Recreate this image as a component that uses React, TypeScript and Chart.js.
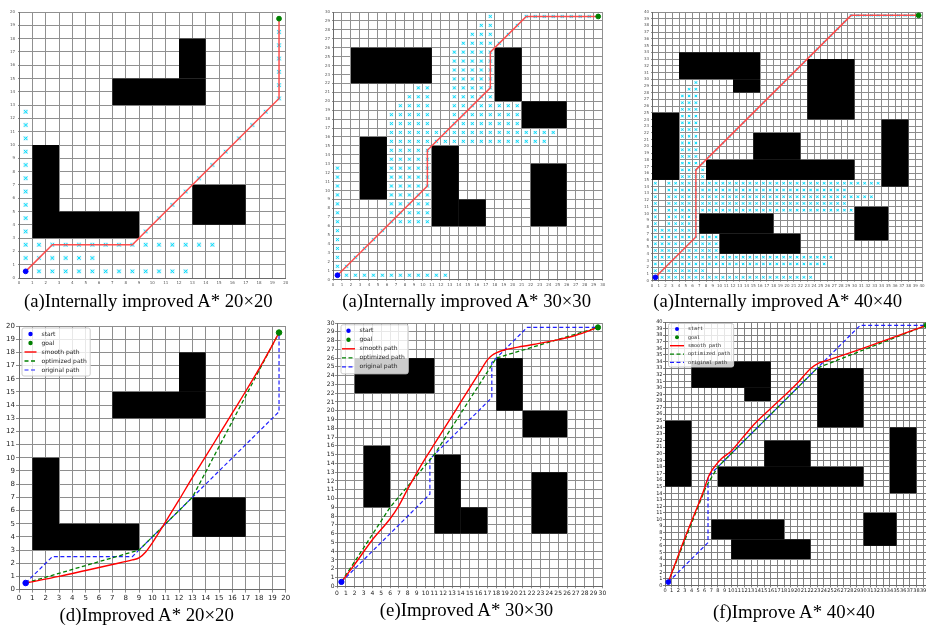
import React, { useEffect, useRef } from 'react';
import { Chart, registerables } from 'chart.js';

Chart.register(...registerables);

type Pt = [number, number];
type Rect = [number, number, number, number];

// ---------------- data ----------------
const START_POINT: Pt = [0.5, 0.5];
const GOAL_20: Pt = [19.5, 19.5];
const GOAL_30: Pt = [29.5, 29.5];
const GOAL_40: Pt = [39.5, 39.5];

// obstacles: [x0, y0, x1, y1]
const OBSTACLES_20: Rect[] = [[1, 3, 3, 10], [3, 3, 9, 5], [7, 13, 14, 15], [12, 15, 14, 18], [13, 4, 17, 7]];
const OBSTACLES_30: Rect[] = [[2, 22, 11, 26], [3, 9, 6, 16], [11, 6, 14, 15], [14, 6, 17, 9], [18, 20, 21, 26], [21, 17, 26, 20], [22, 6, 26, 13]];
const OBSTACLES_40: Rect[] = [[4, 30, 16, 34], [12, 28, 16, 30], [0, 15, 4, 25], [8, 15, 30, 18], [15, 18, 22, 22], [23, 24, 30, 33], [34, 14, 38, 24], [30, 6, 35, 11], [7, 7, 18, 10], [10, 4, 22, 7]];

// original (internally improved A*) paths
const ORIGINAL_20: Pt[] = [[0.5, 0.5], [2.5, 2.5], [8.5, 2.5], [19.5, 13.5], [19.5, 19.5]];
const ORIGINAL_30: Pt[] = [[0.5, 0.5], [10.5, 10.5], [10.5, 14.5], [17.5, 21.5], [17.5, 25.5], [21.5, 29.5], [29.5, 29.5]];
const ORIGINAL_40: Pt[] = [[0.5, 0.5], [6.5, 6.5], [6.5, 16.5], [29.5, 39.5], [39.5, 39.5]];

// optimized paths
const OPTIMIZED_20: Pt[] = [[0.5, 0.5], [9, 3], [13, 7], [19.5, 19.5]];
const OPTIMIZED_30: Pt[] = [[0.5, 0.5], [6, 9], [11, 15], [18, 26], [29.5, 29.5]];
const OPTIMIZED_40: Pt[] = [[0.5, 0.5], [6.2, 15], [8, 18], [23, 33], [39.5, 39.5]];

// smooth paths
const SMOOTH_20: Pt[] = [[0.5, 0.5], [3, 1.0], [5, 1.45], [7, 1.9], [8.5, 2.25], [9, 2.4], [9.5, 2.85], [10, 3.55], [10.5, 4.35], [11, 5.15], [12, 6.8], [13, 8.5], [14, 10.1], [15, 11.75], [16, 13.4], [17, 15.05], [18, 16.75], [19, 18.55], [19.5, 19.5]];
const SMOOTH_30: Pt[] = [[0.5, 0.5], [2, 2.5], [4, 5.3], [6, 7.7], [7, 9.2], [8, 11.1], [9, 12.9], [10, 14.6], [11, 16.2], [12, 17.8], [13, 19.4], [14, 21], [15, 22.6], [16, 24.2], [17, 25.8], [17.5, 26.3], [18, 26.6], [19, 26.95], [21, 27.35], [23, 27.7], [25, 28.1], [27, 28.6], [29.5, 29.5]];
const SMOOTH_40: Pt[] = [[0.5, 0.5], [3, 7.2], [5.7, 14], [6.7, 16.8], [7.7, 18.3], [8.6, 19.3], [9.9, 20.3], [11.7, 22.4], [13.7, 24.7], [16, 26.9], [19.8, 30.5], [22.1, 33], [23.3, 33.8], [24.3, 34.1], [27.9, 35.3], [39.5, 39.5]];

// explored cells: blocks of cell centres [x0, y0, x1, y1] (inclusive) and diagonal runs
const VISITED_BLOCKS_20: Rect[] = [[1.5, 0.5, 12.5, 0.5], [1.5, 1.5, 5.5, 1.5], [0.5, 1.5, 0.5, 12.5], [1.5, 2.5, 14.5, 2.5], [19.5, 14.5, 19.5, 18.5]];
const VISITED_DIAG_20: Rect[] = [[9.5, 3.5, 19.5, 13.5]];

const VISITED_BLOCKS_30: Rect[] = [
  [1.5, 0.5, 12.5, 0.5], [0.5, 1.5, 0.5, 12.5], [6.5, 6.5, 10.5, 14.5], [6.5, 15.5, 23.5, 15.5], [6.5, 16.5, 24.5, 16.5],
  [6.5, 17.5, 10.5, 18.5], [7.5, 19.5, 10.5, 19.5], [8.5, 20.5, 10.5, 20.5], [9.5, 21.5, 10.5, 21.5],
  [13.5, 17.5, 20.5, 19.5], [13.5, 20.5, 17.5, 25.5], [14.5, 26.5, 18.5, 26.5], [15.5, 27.5, 17.5, 27.5],
  [16.5, 28.5, 17.5, 28.5], [17.5, 29.5, 17.5, 29.5], [21.5, 29.5, 28.5, 29.5],
];
const VISITED_DIAG_30: Rect[] = [[1.5, 1.5, 5.5, 5.5], [19.5, 27.5, 20.5, 28.5]];

const VISITED_BLOCKS_40: Rect[] = [
  [1.5, 0.5, 23.5, 0.5], [0.5, 1.5, 7.5, 1.5], [0.5, 2.5, 25.5, 2.5], [0.5, 3.5, 26.5, 3.5], [0.5, 4.5, 9.5, 6.5],
  [0.5, 7.5, 6.5, 7.5], [0.5, 8.5, 0.5, 14.5], [2.5, 8.5, 6.5, 9.5], [2.5, 10.5, 29.5, 10.5], [2.5, 11.5, 28.5, 11.5],
  [2.5, 12.5, 32.5, 12.5], [2.5, 13.5, 28.5, 13.5], [2.5, 14.5, 33.5, 14.5], [4.5, 15.5, 7.5, 16.5], [4.5, 17.5, 6.5, 27.5],
  [5.5, 28.5, 6.5, 28.5], [6.5, 29.5, 6.5, 29.5], [30.5, 39.5, 38.5, 39.5],
];
const VISITED_DIAG_40: Rect[] = [[7.5, 17.5, 29.5, 39.5]];

const LEGEND_LABELS = ['start', 'goal', 'smooth path', 'optimized path', 'original path'];
const CAPTIONS = [
  '(a)Internally improved A* 20×20',
  '(a)Internally improved A* 30×30',
  '(a)Internally improved A* 40×40',
  '(d)Improved A* 20×20',
  '(e)Improved A* 30×30',
  '(f)Improve A* 40×40',
];

// ---------------- helpers ----------------
const toXY = (p: Pt[]) => p.map(([x, y]) => ({ x, y }));

function cellsFromBlocks(blocks: Rect[]) {
  const out: { x: number; y: number }[] = [];
  for (const [x0, y0, x1, y1] of blocks)
    for (let x = x0; x <= x1 + 1e-6; x += 1)
      for (let y = y0; y <= y1 + 1e-6; y += 1) out.push({ x, y });
  return out;
}
function cellsFromDiagonals(segs: Rect[]) {
  const out: { x: number; y: number }[] = [];
  for (const [x0, y0, x1, y1] of segs) {
    const n = Math.round(Math.max(Math.abs(x1 - x0), Math.abs(y1 - y0)));
    const sx = Math.sign(x1 - x0), sy = Math.sign(y1 - y0);
    for (let i = 0; i <= n; i++) out.push({ x: x0 + sx * i, y: y0 + sy * i });
  }
  return out;
}

function obstaclePlugin(rects: Rect[]) {
  return {
    id: 'obstacles',
    beforeDatasetsDraw(chart: any) {
      const { ctx, chartArea, scales } = chart;
      const xs = scales.x, ys = scales.y;
      ctx.save();
      ctx.beginPath();
      ctx.rect(chartArea.left, chartArea.top, chartArea.right - chartArea.left, chartArea.bottom - chartArea.top);
      ctx.clip();
      ctx.fillStyle = '#000';
      for (const [x0, y0, x1, y1] of rects) {
        const px0 = xs.getPixelForValue(x0), px1 = xs.getPixelForValue(x1);
        const py0 = ys.getPixelForValue(y0), py1 = ys.getPixelForValue(y1);
        ctx.fillRect(Math.min(px0, px1), Math.min(py0, py1), Math.abs(px1 - px0), Math.abs(py1 - py0));
      }
      ctx.restore();
    },
  };
}

type LegendSpec = {
  ox: number; oy: number; h: number; first: number; rowH: number;
  fontSize: number; family: string; s0: number; s1: number; textX: number; padR: number; dotR: number;
};

function legendPlugin(spec: LegendSpec | null) {
  return {
    id: 'mplLegend',
    afterDatasetsDraw(chart: any) {
      if (!spec) return;
      const { ctx, chartArea } = chart;
      const ds = chart.data.datasets;
      ctx.save();
      ctx.font = `${spec.fontSize}px ${spec.family}`;
      const maxW = Math.max(...ds.map((d: any) => ctx.measureText(d.label).width));
      const x0 = chartArea.left + spec.ox, y0 = chartArea.top + spec.oy;
      const w = spec.textX + maxW + spec.padR;
      ctx.beginPath();
      (ctx as any).roundRect(x0 + 0.5, y0 + 0.5, w, spec.h, 2);
      ctx.fillStyle = 'rgba(255,255,255,0.8)';
      ctx.fill();
      ctx.strokeStyle = '#cccccc';
      ctx.lineWidth = 1;
      ctx.stroke();
      ds.forEach((d: any, i: number) => {
        const cy = y0 + spec.first + i * spec.rowH;
        if (!d.showLine) {
          ctx.beginPath();
          ctx.arc(x0 + (spec.s0 + spec.s1) / 2, cy, spec.dotR, 0, Math.PI * 2);
          ctx.fillStyle = d.pointBackgroundColor;
          ctx.fill();
        } else {
          ctx.beginPath();
          ctx.setLineDash(d.borderDash || []);
          ctx.moveTo(x0 + spec.s0, cy);
          ctx.lineTo(x0 + spec.s1, cy);
          ctx.strokeStyle = d.borderColor;
          ctx.lineWidth = d.borderWidth;
          ctx.stroke();
          ctx.setLineDash([]);
        }
        ctx.fillStyle = '#222';
        ctx.textBaseline = 'middle';
        ctx.textAlign = 'left';
        ctx.fillText(d.label, x0 + spec.textX, cy);
      });
      ctx.restore();
    },
  };
}

// ---------------- panels ----------------
type PanelDef = {
  n: number;
  box: [number, number, number, number]; // plot area L, T, R, B
  tickFont: number; tickColor: string; tickLen: number; padY: number; padX: number;
  gridColor: string;
  obstacles: Rect[];
  datasets: any[];
  legend: LegendSpec | null;
};

const YW = 22, XH = 16, PT = 5, PR = 9;

function topDatasets(goal: Pt, path: Pt[], blocks: Rect[], diag: Rect[], markR: number) {
  const cells = [...cellsFromBlocks(blocks), ...cellsFromDiagonals(diag)];
  return [
    { label: 'start', data: toXY([START_POINT]), pointRadius: 2.4, pointBackgroundColor: '#0000ff', pointBorderColor: '#0000ff', showLine: false },
    { label: 'goal', data: toXY([goal]), pointRadius: 2.4, pointBackgroundColor: '#008000', pointBorderColor: '#008000', showLine: false },
    { label: 'path', data: toXY(path), showLine: true, borderColor: 'rgba(255,70,70,0.95)', borderWidth: 1.5, pointRadius: 0, tension: 0 },
    { label: 'visited', data: cells, showLine: false, pointStyle: 'crossRot', pointRadius: markR, pointBorderColor: '#00e0ff', pointBackgroundColor: '#00e0ff', pointBorderWidth: 1 },
    { label: 'visited-bg', data: cells, showLine: false, pointStyle: 'rect', pointRadius: markR * 1.3, pointBorderWidth: 0, pointBorderColor: 'rgba(0,0,0,0)', pointBackgroundColor: 'rgba(110,210,235,0.35)' },
  ];
}

function bottomDatasets(goal: Pt, smooth: Pt[], opt: Pt[], orig: Pt[], r: number) {
  return [
    { label: LEGEND_LABELS[0], data: toXY([START_POINT]), pointRadius: r, pointBackgroundColor: '#0000ff', pointBorderColor: '#0000ff', showLine: false },
    { label: LEGEND_LABELS[1], data: toXY([goal]), pointRadius: r, pointBackgroundColor: '#008000', pointBorderColor: '#008000', showLine: false },
    { label: LEGEND_LABELS[2], data: toXY(smooth), showLine: true, borderColor: '#ff0000', borderWidth: 1.4, pointRadius: 0, cubicInterpolationMode: 'monotone' },
    { label: LEGEND_LABELS[3], data: toXY(opt), showLine: true, borderColor: '#008000', borderWidth: 1.3, borderDash: [4, 2.5], pointRadius: 0, tension: 0 },
    { label: LEGEND_LABELS[4], data: toXY(orig), showLine: true, borderColor: '#2020ff', borderWidth: 1.2, borderDash: [4, 2.5], pointRadius: 0, tension: 0 },
  ];
}

const PANELS: PanelDef[] = [
  { n: 20, box: [19.3, 12.3, 286, 278.3], tickFont: 4, tickColor: '#555', tickLen: 1, padY: 3, padX: 2, gridColor: '#909090', obstacles: OBSTACLES_20,
    datasets: topDatasets(GOAL_20, ORIGINAL_20, VISITED_BLOCKS_20, VISITED_DIAG_20, 2.4), legend: null },
  { n: 30, box: [333, 12.3, 602.7, 280], tickFont: 4, tickColor: '#555', tickLen: 1, padY: 2, padX: 2, gridColor: '#909090', obstacles: OBSTACLES_30,
    datasets: topDatasets(GOAL_30, ORIGINAL_30, VISITED_BLOCKS_30, VISITED_DIAG_30, 2), legend: null },
  { n: 40, box: [652, 12.3, 922, 281], tickFont: 4, tickColor: '#555', tickLen: 1, padY: 2, padX: 1.6, gridColor: '#8c8c8c', obstacles: OBSTACLES_40,
    datasets: topDatasets(GOAL_40, ORIGINAL_40, VISITED_BLOCKS_40, VISITED_DIAG_40, 1.6), legend: null },
  { n: 20, box: [19.3, 325.7, 286, 589.3], tickFont: 7, tickColor: '#222', tickLen: 3, padY: 1, padX: 1, gridColor: '#8e8e8e', obstacles: OBSTACLES_20,
    datasets: bottomDatasets(GOAL_20, SMOOTH_20, OPTIMIZED_20, ORIGINAL_20, 2.8),
    legend: { ox: 2.5, oy: 1.5, h: 48, first: 6.5, rowH: 9, fontSize: 6, family: '"DejaVu Sans"', s0: 3, s1: 15, textX: 20, padR: 3, dotR: 2.2 } },
  { n: 30, box: [337.3, 322.7, 602.7, 586], tickFont: 6, tickColor: '#222', tickLen: 2, padY: 0.5, padX: 2, gridColor: '#8e8e8e', obstacles: OBSTACLES_30,
    datasets: bottomDatasets(GOAL_30, SMOOTH_30, OPTIMIZED_30, ORIGINAL_30, 2.6),
    legend: { ox: 3.5, oy: 1.3, h: 49, first: 6.5, rowH: 9, fontSize: 6, family: '"DejaVu Sans"', s0: 1.5, s1: 14.5, textX: 19, padR: 3, dotR: 2.2 } },
  { n: 40, box: [665.3, 322.3, 930, 585.7], tickFont: 5, tickColor: '#222', tickLen: 2, padY: 0.5, padX: 0.5, gridColor: '#808080', obstacles: OBSTACLES_40,
    datasets: bottomDatasets(GOAL_40, SMOOTH_40, OPTIMIZED_40, ORIGINAL_40, 2.4),
    legend: { ox: 3, oy: 1, h: 43.5, first: 6, rowH: 8.35, fontSize: 5, family: '"DejaVu Sans Mono"', s0: 2, s1: 16, textX: 20, padR: 3, dotR: 2 } },
];

const CAPTION_POS: { cx: number; cy: number; size: number }[] = [
  { cx: 148.3, cy: 301, size: 18.7 },
  { cx: 466.7, cy: 301, size: 18.7 },
  { cx: 777.7, cy: 301, size: 18.7 },
  { cx: 146.7, cy: 615.3, size: 18.8 },
  { cx: 466.5, cy: 610.5, size: 18.8 },
  { cx: 794, cy: 612, size: 18.8 },
];

function GridPanel({ def }: { def: PanelDef }) {
  const ref = useRef<HTMLCanvasElement>(null);
  const [L, T, R, B] = def.box;
  const left = L - YW, top = T - PT;
  const width = Math.round(R - L + YW + PR), height = Math.round(B - T + PT + XH);
  const rightPad = width - (R - L) - YW;
  const bottomAxis = height - (B - T) - PT;

  useEffect(() => {
    if (!ref.current) return;
    const tickFont = { size: def.tickFont, family: '"DejaVu Sans", sans-serif' };
    const chart = new Chart(ref.current, {
      type: 'scatter',
      data: { datasets: def.datasets },
      options: {
        responsive: false,
        maintainAspectRatio: false,
        animation: false,
        events: [],
        layout: { padding: { left: 0, top: PT, right: rightPad, bottom: 0 } },
        plugins: { legend: { display: false }, tooltip: { enabled: false }, title: { display: false } },
        scales: {
          x: {
            type: 'linear', min: 0, max: def.n,
            ticks: { stepSize: 1, autoSkip: false, maxRotation: 0, minRotation: 0, font: tickFont, color: def.tickColor, padding: def.padX },
            grid: { color: def.gridColor, lineWidth: 1, tickLength: def.tickLen, drawTicks: true },
            border: { display: true, color: '#6a6a6a' },
            afterFit: (s: any) => { s.height = bottomAxis; s.paddingLeft = 0; s.paddingRight = 0; },
          },
          y: {
            type: 'linear', min: 0, max: def.n,
            ticks: { stepSize: 1, autoSkip: false, font: tickFont, color: def.tickColor, padding: def.padY },
            grid: { color: def.gridColor, lineWidth: 1, tickLength: def.tickLen, drawTicks: true },
            border: { display: true, color: '#6a6a6a' },
            afterFit: (s: any) => { s.width = YW; s.paddingTop = 0; s.paddingBottom = 0; },
          },
        },
      } as any,
      plugins: [obstaclePlugin(def.obstacles), legendPlugin(def.legend)],
    } as any);
    return () => chart.destroy();
  }, []);

  return (
    <canvas
      ref={ref}
      width={width}
      height={height}
      style={{ position: 'absolute', left, top, width, height }}
    />
  );
}

export default function App() {
  return (
    <div style={{ position: 'fixed', left: 0, top: 0, width: 926, height: 625, overflow: 'hidden', background: '#ffffff' }}>
      {PANELS.map((p, i) => (
        <GridPanel key={i} def={p} />
      ))}
      {CAPTIONS.map((c, i) => {
        const pos = CAPTION_POS[i];
        return (
          <div
            key={'c' + i}
            style={{
              position: 'absolute',
              left: pos.cx,
              top: pos.cy - pos.size * 0.5,
              transform: 'translateX(-50%)',
              whiteSpace: 'nowrap',
              fontFamily: '"Liberation Serif", "Times New Roman", serif',
              fontSize: pos.size,
              lineHeight: 1,
              color: '#000',
            }}
          >
            {c}
          </div>
        );
      })}
    </div>
  );
}
